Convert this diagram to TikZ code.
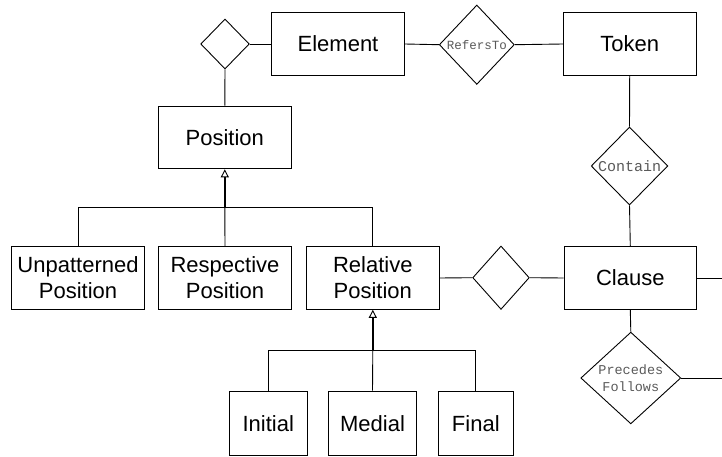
\documentclass[tikz,border=0pt]{standalone}
\usepackage{fontspec}
\setmainfont{Liberation Sans}
\setmonofont{Liberation Mono}
\usetikzlibrary{shapes.geometric,arrows.meta}

\begin{document}
\begin{tikzpicture}[x=1pt,y=-1pt]
				\tikzset{entity/.style={draw,line width=0.9pt,align=center,inner sep=0pt,minimum width=132.7pt,minimum height=62.7pt,font=\fontsize{22}{26}\selectfont}}
				\tikzset{relation/.style={draw,line width=0.9pt,diamond,inner sep=0pt,align=center,text=black!65,font=\ttfamily\fontsize{13.5}{17}\selectfont}}
				\tikzset{isa/.style={line width=1.4pt,-{Triangle[open,length=8pt,width=8pt,line width=0.9pt]}}}
				\tikzset{link/.style={line width=0.9pt}}
				\useasboundingbox (0,0) rectangle (722,457);
				% entities
				\node[entity] (element) at (338,44) {Element};
				\node[entity] (token) at (629.7,44) {Token};
				\node[entity] (position) at (224.8,137.5) {Position};
				\node[entity] (clause) at (630.3,278) {Clause};
				\node[entity] (unpat) at (78,278) {Unpatterned\\Position};
				\node[entity] (resp) at (225,278) {Respective\\Position};
				\node[entity] (rel) at (372.8,278) {Relative\\Position};
				\node[entity,minimum width=78pt,minimum height=64.7pt] (initial) at (268.3,423.3) {Initial};
				\node[entity,minimum width=88.3pt,minimum height=64.7pt] (medial) at (372.5,423.3) {Medial};
				\node[entity,minimum width=75pt,minimum height=64.7pt] (final) at (475.8,423.3) {Final};
				% relations
				\node[relation,minimum width=48.6pt,minimum height=50pt] (posdiam) at (225,44) {};
				\node[relation,minimum width=75pt,minimum height=79.4pt,font=\ttfamily\fontsize{12.5}{14}\selectfont] (refers) at (476.8,44.7) {RefersTo};
				\node[relation,minimum width=76.6pt,minimum height=78pt,font=\ttfamily\fontsize{15}{17}\selectfont] (contain) at (629.5,166) {Contain};
				\node[relation,minimum width=56.6pt,minimum height=63.4pt] (reldiam) at (501,277.7) {};
				\node[relation,minimum width=100pt,minimum height=74pt] (precedes) at (630.8,378) {Precedes\\Follows};
				\coordinate (clauseout) at (722,278);
				\coordinate (precout) at (722,378);
				\coordinate (pbar) at (224.8,207.7);
				\coordinate (rbar) at (372.8,350.3);
				% connectors
				\draw[link] (posdiam.east) -- (element.west);
				\draw[link] (posdiam.south) -- (position.north);
				\draw[link] (element.east) -- (refers.west);
				\draw[link] (refers.east) -- (token.west);
				\draw[link] (token.south) -- (contain.north);
				\draw[link] (contain.south) -- (clause.north);
				\draw[link] (rel.east) -- (reldiam.west);
				\draw[link] (reldiam.east) -- (clause.west);
				\draw[link] (clause.east) -- (clauseout);
				\draw[link] (clause.south) -- (precedes.north);
				\draw[link] (precedes.east) -- (precout);
				% generalisations
				\draw[link] (unpat.north) |- (pbar) -| (rel.north);
				\draw[link] (resp.north) -- (pbar);
				\draw[isa] (pbar) -- (position.south);
				\draw[link] (initial.north) |- (rbar) -| (final.north);
				\draw[link] (medial.north) -- (rbar);
				\draw[isa] (rbar) -- (rel.south);
			\end{tikzpicture}
\end{document}
